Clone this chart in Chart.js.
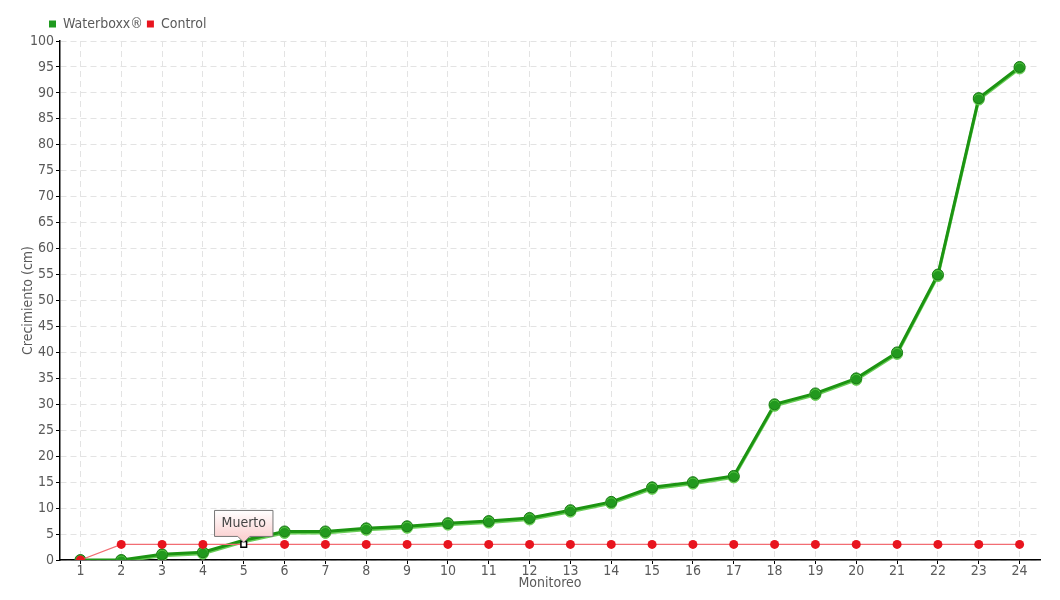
<!DOCTYPE html>
<html>
<head>
<meta charset="utf-8">
<script src="https://cdn.jsdelivr.net/npm/chart.js@4/dist/chart.umd.min.js"></script>
<style>
    html, body { margin: 0; padding: 0; background: #fff; }
    #wrap { width: 1060px; height: 600px; }
</style>
</head>
<body>
<div id="wrap"><canvas id="growthChart"></canvas></div>
<script>
    //================================ Data ================================
    var monitoreo = ['1', '2', '3', '4', '5', '6', '7', '8', '9', '10', '11', '12',
        '13', '14', '15', '16', '17', '18', '19', '20', '21', '22', '23', '24'];
    var valuesWaterboxx = [0, 0, 1.1, 1.5, 3.8, 5.5, 5.5, 6.1, 6.5, 7.1, 7.5, 8.1,
        9.6, 11.2, 14, 15, 16.2, 30, 32.1, 35, 40, 55, 89, 95];
    var valuesControl = [0, 3, 3, 3, 3, 3, 3, 3, 3, 3, 3, 3,
        3, 3, 3, 3, 3, 3, 3, 3, 3, 3, 3, 3];
    var seriesNames = ['Waterboxx®', 'Control'];
    // note on a control point: [index, text]
    var notesControl = [[4, 'Muerto']];

    var fontFamily = "'DejaVu Sans Condensed', 'Liberation Sans Narrow', sans-serif";
    var textColor = '#5a5a5a';

    //================================ Plugins =============================
    // soft lighter edge under the green line
    var lineShadow = {
        id: 'lineShadow',
        beforeDatasetDraw: function(chart, args) {
            var ctx = chart.ctx;
            ctx.save();
            if (args.index === 0) {
                ctx.shadowColor = 'rgba(90,200,70,0.9)';
                ctx.shadowOffsetX = 0;
                ctx.shadowOffsetY = 1.5;
                ctx.shadowBlur = 0;
            }
        },
        afterDatasetDraw: function(chart) {
            chart.ctx.restore();
        }
    };

    // legend sits over the plot, not at the page edge
    var legendShift = {
        id: 'legendShift',
        afterLayout: function(chart) {
            chart.legend.left = 45;
        }
    };

    // callout box above a control point
    var callout = {
        id: 'callout',
        afterDatasetsDraw: function(chart) {
            var ctx = chart.ctx;
            var meta = chart.getDatasetMeta(1);
            notesControl.forEach(function(n) {
                var pt = meta.data[n[0]];
                ctx.save();
                ctx.font = '14px ' + fontFamily;
                var w = ctx.measureText(n[1]).width + 14;
                var h = 26;
                var x = pt.x - w / 2;
                var y = pt.y - 8 - h;
                var g = ctx.createLinearGradient(0, y, 0, y + h);
                g.addColorStop(0, '#ffffff');
                g.addColorStop(1, '#fbd3d3');
                ctx.beginPath();
                ctx.moveTo(x, y);
                ctx.lineTo(x + w, y);
                ctx.lineTo(x + w, y + h);
                ctx.lineTo(pt.x + 6, y + h);
                ctx.lineTo(pt.x, y + h + 6);
                ctx.lineTo(pt.x - 6, y + h);
                ctx.lineTo(x, y + h);
                ctx.closePath();
                ctx.fillStyle = g;
                ctx.fill();
                ctx.strokeStyle = '#777';
                ctx.lineWidth = 1;
                ctx.stroke();
                ctx.fillStyle = '#444';
                ctx.textAlign = 'center';
                ctx.textBaseline = 'middle';
                ctx.fillText(n[1], pt.x, y + h / 2);
                ctx.restore();
            });
        }
    };

    //================================ Chart ===============================
    var ctrlStyle = valuesControl.map(function(v, i) {
        return notesControl.some(function(n) { return n[0] === i; }) ? 'rect' : 'circle';
    });
    var ctrlFill = ctrlStyle.map(function(s) { return s === 'rect' ? '#ffffff' : '#e8141e'; });
    var ctrlBorder = ctrlStyle.map(function(s) { return s === 'rect' ? '#000000' : '#e8141e'; });
    var ctrlRadius = ctrlStyle.map(function(s) { return s === 'rect' ? 4 : 4.5; });

    var chrt = document.getElementById('growthChart').getContext('2d');
    var config = {
        type: 'line',
        data: {
            labels: monitoreo,
            datasets: [{
                label: seriesNames[0],
                data: valuesWaterboxx,
                borderColor: '#1c9412',
                backgroundColor: '#1f9a1f',
                borderWidth: 3,
                pointRadius: valuesWaterboxx.map(function(v, i) { return i === 4 ? 0 : 5.5; }),
                pointBackgroundColor: '#22991e',
                pointBorderColor: '#1a7a16',
                pointBorderWidth: 1,
                tension: 0,
                order: 1
            }, {
                label: seriesNames[1],
                data: valuesControl,
                borderColor: '#f26d73',
                backgroundColor: '#e8141e',
                borderWidth: 1.2,
                pointStyle: ctrlStyle,
                pointRadius: ctrlRadius,
                pointBackgroundColor: ctrlFill,
                pointBorderColor: ctrlBorder,
                pointBorderWidth: ctrlStyle.map(function(s) { return s === 'rect' ? 1.5 : 0; }),
                tension: 0,
                order: 0
            }]
        },
        options: {
            responsive: true,
            maintainAspectRatio: false,
            animation: false,
            layout: { padding: { left: 20, right: 20, top: 13, bottom: 8 } },
            plugins: {
                legend: {
                    align: 'start',
                    labels: {
                        boxWidth: 7,
                        boxHeight: 7,
                        padding: 4,
                        color: textColor,
                        font: { family: fontFamily, size: 14 },
                        generateLabels: function(chart) {
                            return chart.data.datasets.map(function(ds, i) {
                                return {
                                    text: ds.label,
                                    fillStyle: ds.backgroundColor,
                                    strokeStyle: ds.backgroundColor,
                                    lineWidth: 0,
                                    datasetIndex: i,
                                    fontColor: textColor
                                };
                            });
                        }
                    }
                },
                tooltip: { enabled: false }
            },
            scales: {
                x: {
                    offset: true,
                    afterFit: function(scale) { scale.height = 32; },
                    border: { color: '#000', width: 1.5, dash: [6, 4] },
                    grid: {
                        color: '#e3e3e3',
                        tickColor: '#000',
                        tickLength: 4
                    },
                    ticks: {
                        color: textColor,
                        padding: -1,
                        maxRotation: 0,
                        font: { family: fontFamily, size: 14 }
                    },
                    title: {
                        display: true,
                        text: 'Monitoreo',
                        color: textColor,
                        padding: { top: 0, bottom: 0 },
                        font: { family: fontFamily, size: 14 }
                    }
                },
                y: {
                    min: 0,
                    max: 100,
                    afterFit: function(scale) { scale.width = 40; },
                    border: { color: '#000', width: 1.5, dash: [6, 4] },
                    grid: {
                        color: '#e3e3e3',
                        tickColor: '#000',
                        tickLength: 4
                    },
                    ticks: {
                        stepSize: 5,
                        color: textColor,
                        padding: 2,
                        font: { family: fontFamily, size: 14 }
                    },
                    title: {
                        display: true,
                        text: 'Crecimiento (cm)',
                        color: textColor,
                        padding: { top: 0, bottom: 0 },
                        font: { family: fontFamily, size: 14 }
                    }
                }
            }
        },
        plugins: [lineShadow, legendShift, callout]
    };

    var growthChart = new Chart(chrt, config);
</script>
</body>
</html>
